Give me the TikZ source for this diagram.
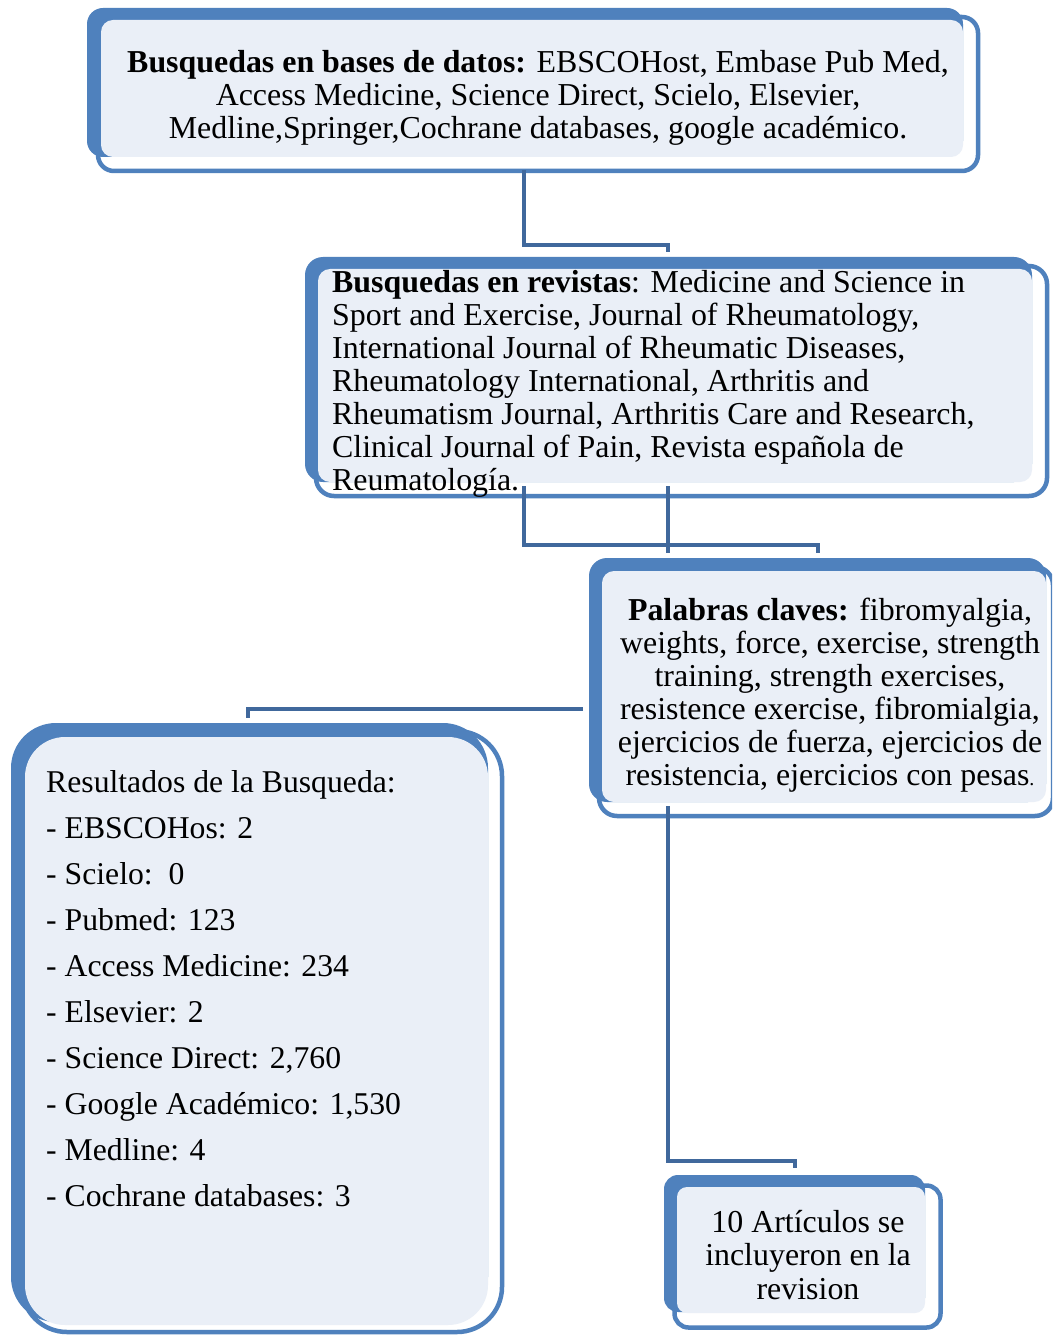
\documentclass[tikz,border=0pt]{standalone}
\usepackage{fontspec}
\setmainfont{Liberation Serif}
\definecolor{bback}{RGB}{79,129,189}
\definecolor{lfill}{RGB}{234,239,247}
\definecolor{connc}{RGB}{64,104,156}
\begin{document}
\begin{tikzpicture}[x=1pt,y=-1pt,
  backbox/.style={fill=bback, draw=none},
  frontbox/.style={draw=bback, line width=4.5pt, fill=white},
  innerbox/.style={fill=lfill, draw=none},
  connline/.style={draw=connc, line width=4.2pt},
  txt/.style={inner sep=0pt, font=\fontsize{31.9}{33}\selectfont}]
\clip (0,0) rectangle (1052,1337);
\fill[white] (0,0) rectangle (1052,1337);

% Box 1
\path[frontbox, rounded corners=16pt] (98,17) rectangle (978,171);
\path[backbox, rounded corners=16pt] (87,8) rectangle (963,157);
\path[innerbox, rounded corners=12pt] (101,20) rectangle (963,157);
\node[txt, align=center, anchor=north] (t1) at (538,50)
 {\textbf{Busquedas en bases de datos:} EBSCOHost, Embase Pub Med,\\
  Access Medicine, Science Direct, Scielo, Elsevier,\\
  Medline,Springer,Cochrane databases, google académico.};

% Box 2
\path[frontbox, rounded corners=18pt] (316,266) rectangle (1047,496);
\path[backbox, rounded corners=18pt] (305,257) rectangle (1032,482);
\path[innerbox, rounded corners=12pt] (318,269) rectangle (1032,482);
\node[txt, align=left, anchor=north west] (t2) at (332,270)
 {\textbf{Busquedas en revistas}: Medicine and Science in\\
  Sport and Exercise, Journal of Rheumatology,\\
  International Journal of Rheumatic Diseases,\\
  Rheumatology International, Arthritis and\\
  Rheumatism Journal, Arthritis Care and Research,\\
  Clinical Journal of Pain, Revista española de\\
  Reumatología.};

% Box 3
\path[frontbox, rounded corners=18pt] (599,567) rectangle (1053,816);
\path[backbox, rounded corners=18pt] (589,558) rectangle (1046,802);
\path[innerbox, rounded corners=12pt] (602,571) rectangle (1046,802);
\node[txt, align=center, anchor=north] (t3) at (830,598)
 {\textbf{Palabras claves:} fibromyalgia,\\
  weights, force, exercise, strength\\
  training, strength exercises,\\
  resistence exercise, fibromialgia,\\
  ejercicios de fuerza, ejercicios de\\
  resistencia, ejercicios con pesas{\fontsize{20}{20}\selectfont.}};

% Box 4
\path[frontbox, rounded corners=45pt] (22,731) rectangle (502,1332);
\path[backbox, rounded corners=45pt] (11,723) rectangle (488,1322);
\path[innerbox, rounded corners=40pt] (25,737) rectangle (488,1325);
\node[txt, align=left, anchor=north west, font=\fontsize{31.7}{46}\selectfont] (t4) at (46,770)
 {Resultados de la Busqueda:\\
  - EBSCOHos: 2\\
  - Scielo:\ \ 0\\
  - Pubmed: 123\\
  - Access Medicine: 234\\
  - Elsevier: 2\\
  - Science Direct: 2,760\\
  - Google Académico: 1,530\\
  - Medline: 4\\
  - Cochrane databases: 3};

% Box 5
\path[frontbox, rounded corners=14pt] (674.5,1185.5) rectangle (940.5,1327.5);
\path[backbox, rounded corners=14pt] (664,1175) rectangle (925,1312);
\path[innerbox, rounded corners=10pt] (677,1187) rectangle (925,1313);
\node[txt, align=center, anchor=north, font=\fontsize{31.9}{33.5}\selectfont] (t5) at (808,1210)
 {10 Artículos se\\ incluyeron en la\\ revision};

% connector endpoints
\coordinate (a0) at (524,170);
\coordinate (a1) at (668,252);
\coordinate (b0) at (524,486);
\coordinate (b1) at (818,553);
\coordinate (c0) at (668,486);
\coordinate (c1) at (668,553);
\coordinate (d0) at (583,709);
\coordinate (d1) at (248,718);
\coordinate (e0) at (668,806);
\coordinate (e1) at (795,1168);

\draw[connline] (a0) |- (668,245) -- (a1);
\draw[connline] (b0) |- (818,545) -- (b1);
\draw[connline] (c0) -- (c1);
\draw[connline] (d0) -| (d1);
\draw[connline] (e0) |- (795,1161) -- (e1);
\end{tikzpicture}
\end{document}
